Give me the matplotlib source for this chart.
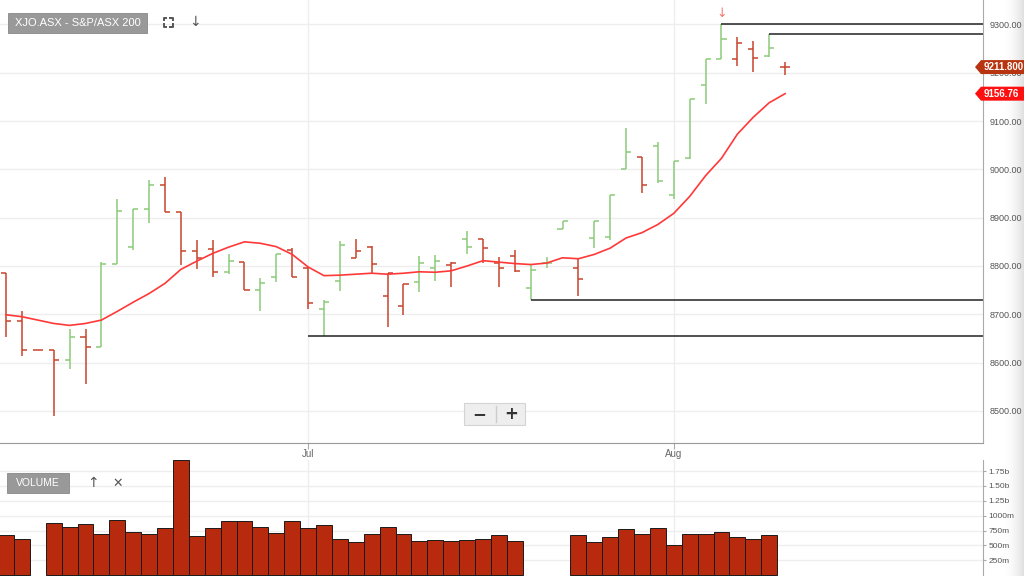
import numpy as np
import matplotlib.pyplot as plt
from matplotlib.patches import Rectangle, Polygon
from matplotlib.lines import Line2D
from matplotlib.transforms import blended_transform_factory

W, H = 1024, 576

# daily OHLC, XJO (bars left to right; Jul starts at index 19, Aug at 42)
opens = [8786, 8686, 8626, 8626, 8605, 8654, 8633, 8804, 8840, 8919,
         8968, 8912, 8830, 8836, 8788, 8809, 8750, 8777, 8833, 8795,
         8710, 8768, 8817, 8839, 8737, 8717, 8767, 8795, 8802, 8856,
         8855, 8807, 8821, 8755, 8806, 8877, 8796, 8858, 8861, 9001,
         9025, 9049, 8947, 9023, 9175, 9228, 9228, 9249, 9235, 9211.8]
highs = [8786, 8706, 8626, 8626, 8670, 8670, 8808, 8938, 8919, 8977,
         8985, 8912, 8853, 8853, 8824, 8809, 8776, 8824, 8837, 8797,
         8729, 8852, 8855, 8841, 8785, 8762, 8821, 8823, 8808, 8872,
         8855, 8818, 8834, 8803, 8818, 8893, 8816, 8894, 8947, 9085,
         9025, 9057, 9018, 9145, 9228, 9300, 9275, 9266, 9280, 9222]
lows = [8652, 8614, 8626, 8490, 8586, 8555, 8633, 8804, 8834, 8888,
        8912, 8802, 8793, 8778, 8784, 8750, 8707, 8767, 8778, 8710,
        8655, 8749, 8816, 8785, 8674, 8699, 8747, 8768, 8757, 8825,
        8807, 8756, 8788, 8730, 8795, 8877, 8738, 8837, 8854, 9000,
        8951, 8971, 8939, 9021, 9136, 9228, 9215, 9202, 9233, 9196]
closes = [8686, 8626, 8626, 8605, 8654, 8633, 8804, 8914, 8919, 8968,
          8912, 8830, 8816, 8788, 8810, 8750, 8764, 8824, 8778, 8723,
          8726, 8843, 8830, 8804, 8785, 8762, 8806, 8810, 8807, 8840,
          8838, 8795, 8790, 8792, 8806, 8893, 8773, 8894, 8947, 9037,
          8967, 8976, 9018, 9145, 9228, 9270, 9262, 9231, 9251, 9211.8]
prev_close = 8800

# moving average (red line)
ma = [8699, 8695, 8688, 8681, 8677, 8681, 8688, 8706, 8725, 8743,
      8764, 8793, 8810, 8826, 8839, 8850, 8847, 8840, 8824, 8798,
      8780, 8781, 8783, 8785, 8783, 8785, 8788, 8787, 8790, 8800,
      8811, 8808, 8805, 8803, 8806, 8817, 8815, 8824, 8837, 8858,
      8869, 8886, 8909, 8944, 8987, 9023, 9073, 9108, 9138, 9156.76]

# volume in millions (nan = no bar)
nan = np.nan
volume = [677, 615, nan, 872, 811, 856, 688, 934, 721, 688,
          800, 1929, 660, 800, 906, 906, 817, 705, 906, 800,
          839, 604, 554, 688, 811, 688, 570, 587, 570, 587,
          604, 677, 570, nan, nan, nan, 677, 554, 649, 777,
          688, 800, 509, 699, 699, 721, 649, 615, 677, nan]

# horizontal support / resistance lines
line_start = [45, 48, 33, 19]
line_level = [9300, 9280, 8730, 8655]

month_pos = [19, 42]
month_labels = ['Jul', 'Aug']

price_ticks = [8500, 8600, 8700, 8800, 8900, 9000, 9100, 9200, 9300]
vol_ticks = [250, 500, 750, 1000, 1250, 1500, 1750]
vol_labels = ['250m', '500m', '750m', '1000m', '1.25b', '1.50b', '1.75b']

last_price = 9211.80
last_ma = 9156.76

RED = '#c9442c'
GREEN = '#8ccc7a'

plt.rcParams['font.family'] = ['Liberation Sans', 'DejaVu Sans']


def fx(x):
    return x / W


def fy(y):
    return 1 - y / H


fig = plt.figure(figsize=(W / 100, H / 100), dpi=100)

# faint shadow at right edge
sh = fig.add_axes([fx(1002), 0, fx(22), 1])
img = np.ones((1, 60, 4)) * 0.78
img[0, :, 3] = np.linspace(0, 1, 60) ** 2 * 0.55
sh.imshow(img, aspect='auto')
sh.axis('off')

ax = fig.add_axes([0, fy(443), fx(983), 443 / H])
axv = fig.add_axes([0, 0, fx(983), 116 / H])

idx = np.arange(len(closes))
xlim = (-6 / 15.9, (983 - 6) / 15.9)

# price bars, coloured by change from previous close
prev = [prev_close] + closes[:-1]
for i in idx:
    c = GREEN if closes[i] > prev[i] else RED
    ax.vlines(i, lows[i], highs[i], color=c, lw=1.1)
    ax.hlines(opens[i], i - 0.32, i, color=c, lw=1.1)
    ax.hlines(closes[i], i, i + 0.32, color=c, lw=1.1)

ax.plot(idx, ma, color='#ff3838', lw=1.2)

for s, lv in zip(line_start, line_level):
    ax.hlines(lv, s, xlim[1], color='#222222', lw=1.1)

ax.annotate('\u2193', xy=(45, highs[45]), xytext=(0, 3), textcoords='offset points',
            ha='center', va='bottom', color='#f07a6a', fontsize=9,
            family=['DejaVu Sans'])

ax.set_xlim(*xlim)
ax.set_ylim(8433.5, 9350.7)
ax.set_yticks(price_ticks)
ax.set_yticklabels([f'{v:.2f}' for v in price_ticks])
ax.yaxis.tick_right()
ax.tick_params(axis='y', length=0, pad=5, labelsize=6.5, labelcolor='#555555')
ax.set_xticks(month_pos)
ax.set_xticklabels(month_labels)
ax.tick_params(axis='x', length=4, color='#aaaaaa', labelsize=7, labelcolor='#666666', pad=0)
ax.grid(True, color='#eeeeee', lw=1)
ax.set_axisbelow(True)
for sp in ['top', 'left']:
    ax.spines[sp].set_visible(False)
ax.spines['right'].set_color('#aaaaaa')
ax.spines['bottom'].set_color('#999999')

# volume panel
vx = [i for i in idx if not np.isnan(volume[i])]
vy = [volume[i] for i in vx]
axv.bar(vx, vy, width=1.0, color='#b82a0e', edgecolor='#1a1a1a', linewidth=0.7)
axv.set_xlim(*xlim)
axv.set_ylim(-13, 1935)
axv.set_xticks(month_pos)
axv.set_xticklabels([])
axv.tick_params(axis='x', length=0)
axv.set_yticks(vol_ticks)
axv.set_yticklabels(vol_labels)
axv.yaxis.tick_right()
axv.tick_params(axis='y', length=2, color='#aaaaaa', pad=2, labelsize=6, labelcolor='#555555')
axv.grid(True, color='#eeeeee', lw=1)
axv.set_axisbelow(True)
for sp in ['top', 'left', 'bottom']:
    axv.spines[sp].set_visible(False)
axv.spines['right'].set_color('#aaaaaa')

# last price / MA tags on right axis
bt = blended_transform_factory(fig.transFigure, ax.transData)
half = 7 / 0.483
for val, col, txt in [(last_price, '#b8330f', f'{last_price:.3f}'),
                      (last_ma, '#ff1010', f'{last_ma:.2f}')]:
    tag = Polygon([(fx(975), val), (fx(981), val + half), (1.0, val + half),
                   (1.0, val - half), (fx(981), val - half)],
                  closed=True, transform=bt, facecolor=col, edgecolor='none',
                  zorder=5, clip_on=False)
    fig.add_artist(tag)
    fig.text(fx(984), val, txt, transform=bt, color='white', fontsize=7,
             fontweight='bold', ha='left', va='center', zorder=6)

# title box
fig.add_artist(Rectangle((fx(8), fy(33)), fx(139), 20 / H, transform=fig.transFigure,
                         facecolor='#999999', edgecolor='#888888', lw=0.6, zorder=5))
fig.text(fx(77.5), fy(23), 'XJO.ASX - S&P/ASX 200', color='white', fontsize=8,
         ha='center', va='center', zorder=6)

# fullscreen icon
cx, cy, d, k = 168, 22, 4.5, 2.5
for sx in (-1, 1):
    for sy in (-1, 1):
        xs = [cx + sx * d, cx + sx * d, cx + sx * (d - k)]
        ys = [cy + sy * (d - k), cy + sy * d, cy + sy * d]
        fig.add_artist(Line2D([fx(v) for v in xs], [fy(v) for v in ys],
                              transform=fig.transFigure, color='#555555', lw=1.4))
fig.text(fx(195), fy(22), '\u2193', color='#555555', fontsize=10, ha='center',
         va='center', family=['DejaVu Sans'])

# volume label box
fig.add_artist(Rectangle((fx(7), fy(493)), fx(62), 20 / H, transform=fig.transFigure,
                         facecolor='#999999', edgecolor='#888888', lw=0.6, zorder=5))
fig.text(fx(38), fy(483), 'VOLUME', color='white', fontsize=7.5, ha='center',
         va='center', zorder=6)
fig.text(fx(93), fy(483), '\u2191', color='#555555', fontsize=10, ha='center',
         va='center', family=['DejaVu Sans'])
fig.text(fx(118), fy(483), '\u2715', color='#555555', fontsize=9, ha='center',
         va='center', family=['DejaVu Sans'])

# zoom control
fig.add_artist(Rectangle((fx(464), fy(425)), fx(61), 22 / H, transform=fig.transFigure,
                         facecolor='#eeeeee', edgecolor='#d4d4d4', lw=0.8, zorder=5))
fig.add_artist(Line2D([fx(496), fx(496)], [fy(406), fy(422)], transform=fig.transFigure,
                      color='#cccccc', lw=1, zorder=6))
fig.text(fx(479), fy(414), '\u2212', color='#333333', fontsize=12, fontweight='bold',
         ha='center', va='center', zorder=6, family=['DejaVu Sans'])
fig.text(fx(511), fy(414), '+', color='#333333', fontsize=12, fontweight='bold',
         ha='center', va='center', zorder=6, family=['DejaVu Sans'])

fig.savefig('out.png', dpi=100, facecolor='white')
